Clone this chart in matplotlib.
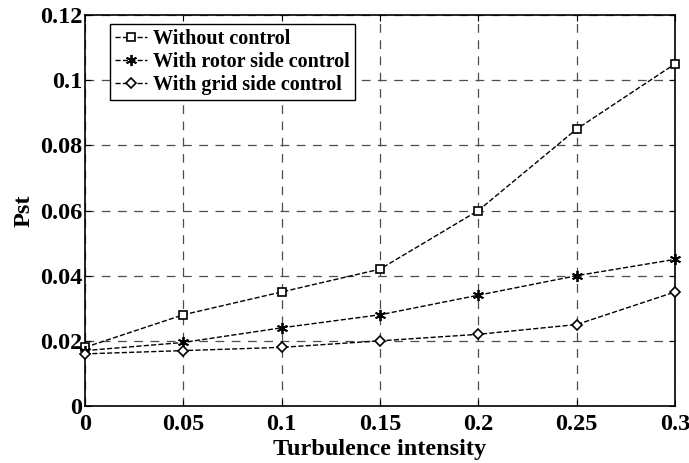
import numpy as np
import matplotlib
matplotlib.use("Agg")
import matplotlib.pyplot as plt

turbulence = [0, 0.05, 0.1, 0.15, 0.2, 0.25, 0.3]
without_control = [0.018, 0.028, 0.035, 0.042, 0.060, 0.085, 0.105]
rotor_side = [0.017, 0.0195, 0.024, 0.028, 0.034, 0.040, 0.045]
grid_side = [0.016, 0.017, 0.018, 0.020, 0.022, 0.025, 0.035]

xticks = [0, 0.05, 0.1, 0.15, 0.2, 0.25, 0.3]
xticklabels = ['0', '0.05', '0.1', '0.15', '0.2', '0.25', '0.3']
yticks = [0, 0.02, 0.04, 0.06, 0.08, 0.1, 0.12]
yticklabels = ['0', '0.02', '0.04', '0.06', '0.08', '0.1', '0.12']

plt.rcParams['font.family'] = 'Liberation Serif'
plt.rcParams['font.weight'] = 'bold'

fig = plt.figure(figsize=(6.89, 4.63), dpi=100)
ax = fig.add_axes([85/689, 57/463, 590/689, 391/463])

ax.plot(turbulence, without_control, 'k--', marker='s', mfc='white', mec='k',
        ms=6, mew=1.2, lw=1, label='Without control', clip_on=False, zorder=3)
ax.plot(turbulence, rotor_side, 'k--', marker=(6, 2, 0), mfc='k', mec='k',
        ms=8, mew=1.3, lw=1, label='With rotor side control', clip_on=False, zorder=3)
ax.plot(turbulence, grid_side, 'k--', marker='D', mfc='white', mec='k',
        ms=5.5, mew=1.2, lw=1, label='With grid side control', clip_on=False, zorder=3)

ax.set_xlim(0, 0.3)
ax.set_ylim(0, 0.12)
ax.set_xticks(xticks)
ax.set_xticklabels(xticklabels)
ax.set_yticks(yticks)
ax.set_yticklabels(yticklabels)
ax.tick_params(direction='in', top=True, right=True, labelsize=17.5, length=4)
ax.tick_params(axis='x', pad=6)
ax.tick_params(axis='y', pad=2)
for lab in ax.get_xticklabels() + ax.get_yticklabels():
    lab.set_fontweight('bold')

ax.grid(True, color='0.3', linestyle=(0, (7, 6)), linewidth=0.9)
for s in ax.spines.values():
    s.set_linewidth(1.2)

ax.set_xlabel('Turbulence intensity', fontsize=17.5, fontweight='bold', labelpad=3)
ax.set_ylabel('Pst', fontsize=17.5, fontweight='bold', labelpad=4)

leg = ax.legend(loc='upper left', bbox_to_anchor=(25/590, 1 - 9/391), borderaxespad=0,
                fontsize=14.5, frameon=True, fancybox=False,
                edgecolor='k', framealpha=1,
                handlelength=1.6, handletextpad=0.3, borderpad=0.25, labelspacing=0.15)
leg.get_frame().set_linewidth(1.0)
for t in leg.get_texts():
    t.set_fontweight('bold')

fig.savefig('out.png', dpi=100)
